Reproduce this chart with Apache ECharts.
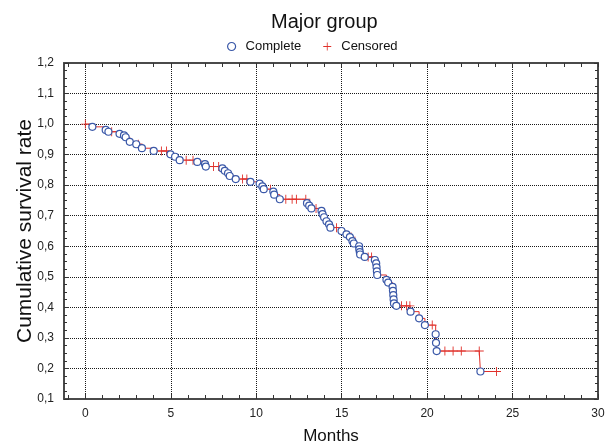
<!DOCTYPE html>
<html><head><meta charset="utf-8">
<script src="https://cdn.jsdelivr.net/npm/echarts@6/dist/echarts.min.js"></script>
<style>html,body{margin:0;padding:0;background:#fff}#c{width:606px;height:447px}</style>
</head><body><div id="c"></div>
<script>
// ---- data ----
const titleText = 'Major group';
const seriesNames = ['Complete', 'Censored'];
const xAxisName = 'Months';
const yAxisName = 'Cumulative survival rate';
const xTickLabels = [0, 5, 10, 15, 20, 25, 30];
const yTickLabels = [0.1, 0.2, 0.3, 0.4, 0.5, 0.6, 0.7, 0.8, 0.9, 1.0, 1.1, 1.2];

const completeTimes = [0.41, 1.19, 1.35, 2.00, 2.26, 2.36, 2.60, 2.98, 3.31, 4.00, 4.98, 5.25, 5.52, 6.55, 7.00, 7.05,
  8.02, 8.16, 8.35, 8.45, 8.80, 9.66, 10.20, 10.36, 10.44, 11.00, 11.05, 11.38, 12.97, 13.10, 13.23, 13.82, 13.88,
  13.97, 14.11, 14.26, 14.34, 14.99, 15.28, 15.48, 15.63, 15.71, 16.02, 16.03, 16.06, 16.08, 16.35, 16.94, 17.02,
  17.04, 17.06, 17.08, 17.62, 17.72, 17.98, 18.00, 18.02, 18.04, 18.06, 18.20, 19.03, 19.53, 19.87, 20.50, 20.52,
  20.56, 23.12];
const completeSurv = [0.991, 0.981, 0.975, 0.968, 0.963, 0.957, 0.942, 0.934, 0.921, 0.912, 0.901, 0.893, 0.882, 0.876,
  0.869, 0.861, 0.855, 0.847, 0.839, 0.830, 0.820, 0.811, 0.805, 0.796, 0.787, 0.779, 0.769, 0.754, 0.741, 0.733,
  0.724, 0.716, 0.705, 0.695, 0.682, 0.672, 0.661, 0.650, 0.639, 0.630, 0.617, 0.609, 0.600, 0.590, 0.581, 0.573,
  0.565, 0.555, 0.544, 0.531, 0.518, 0.506, 0.490, 0.481, 0.467, 0.454, 0.440, 0.426, 0.413, 0.405, 0.386, 0.364,
  0.342, 0.312, 0.284, 0.257, 0.190];

const censoredTimes = [0, 1.54, 3.10, 4.45, 4.75, 5.90, 6.30, 7.50, 7.80, 9.20, 9.45, 10.83, 11.73, 12.10, 12.35,
  12.90, 13.50, 14.70, 15.55, 16.20, 16.55, 16.75, 18.50, 18.80, 18.99, 20.30, 21.04, 21.52, 22.00, 23.05, 24.06];
const censoredSurv = [1.0, 0.975, 0.934, 0.912, 0.912, 0.882, 0.882, 0.861, 0.861, 0.820, 0.820, 0.787, 0.754, 0.754,
  0.754, 0.754, 0.724, 0.661, 0.630, 0.573, 0.565, 0.565, 0.405, 0.405, 0.405, 0.342, 0.257, 0.257, 0.257, 0.257,
  0.190];

// ---- build library structures ----
const completePts = completeTimes.map((t, i) => [t, completeSurv[i]]);
const censoredPts = censoredTimes.map((t, i) => [t, censoredSurv[i]]);
const stepPts = completePts.concat(censoredPts).sort((a, b) => a[0] - b[0] || b[1] - a[1]);

const xMin = -1.25, xMax = 30;
const xMinor = [];
for (let v = -1; v <= 30; v++) xMinor.push(v);

const FONT = '"Liberation Sans", Arial, sans-serif';
const RED = '#e0302a';
const BLUE = '#3a58a8';
const frameLine = { show: true, onZero: false, lineStyle: { color: '#4a4a4a', width: 2 } };
const gridLine = { show: true, lineStyle: { color: '#1a1a1a', type: 'dotted', width: 1 } };
const tickStyle = { color: '#333', width: 1 };
const fmt = v => Number(v).toFixed(1).replace('.', ',');
const plusPath = 'path://M4.5,0h1v4.5h4.5v1h-4.5v4.5h-1v-4.5h-4.5v-1h4.5z';

const chart = echarts.init(document.getElementById('c'), null, { renderer: 'canvas' });
chart.setOption({
  animation: false,
  backgroundColor: '#fff',
  title: {
    text: titleText, left: 266, top: 7,
    textStyle: { fontSize: 20, fontWeight: 'normal', color: '#111', fontFamily: FONT }
  },
  legend: {
    data: [
      { name: seriesNames[0], icon: 'circle', itemStyle: { color: '#fff', borderColor: BLUE, borderWidth: 1.2 } },
      { name: seriesNames[1], icon: plusPath, itemStyle: { color: RED, borderWidth: 0 } }
    ],
    left: 222, top: 35, itemWidth: 8, itemHeight: 8, itemGap: 22,
    textStyle: { fontSize: 13, color: '#111', fontFamily: FONT, padding: [0, 0, 0, 5] }
  },
  grid: { left: 64, right: 8, top: 63, bottom: 48, containLabel: false, outerBoundsMode: 'none' },
  xAxis: [
    {
      type: 'value', position: 'bottom', min: xMin, max: xMax,
      axisLine: frameLine,
      axisTick: { show: true, inside: true, length: 5, customValues: xTickLabels, lineStyle: tickStyle },
      axisLabel: { customValues: xTickLabels, margin: 9, fontSize: 12, color: '#222', fontFamily: FONT },
      splitLine: gridLine,
      name: xAxisName, nameLocation: 'middle', nameGap: 29, nameMoveOverlap: false,
      nameTextStyle: { fontSize: 17, color: '#111', fontFamily: FONT }
    },
    {
      type: 'value', position: 'bottom', min: xMin, max: xMax,
      axisLine: { show: false, onZero: false },
      axisTick: { show: true, inside: true, length: 4, customValues: xMinor, lineStyle: tickStyle },
      axisLabel: { show: false }, splitLine: { show: false }
    },
    {
      type: 'value', position: 'top', min: xMin, max: xMax,
      axisLine: frameLine,
      axisTick: { show: true, inside: true, length: 4, customValues: xMinor, lineStyle: tickStyle },
      axisLabel: { show: false }, splitLine: { show: false }
    }
  ],
  yAxis: [
    {
      type: 'value', position: 'left', min: yTickLabels[0], max: yTickLabels[yTickLabels.length - 1], interval: 0.1,
      axisLine: frameLine,
      axisTick: { show: true, inside: true, length: 5, lineStyle: tickStyle },
      minorTick: { show: true, splitNumber: 4, length: 3, lineStyle: tickStyle },
      axisLabel: { formatter: fmt, margin: 10, fontSize: 12, color: '#222', fontFamily: FONT },
      splitLine: gridLine,
      name: yAxisName, nameLocation: 'middle', nameGap: 28, nameMoveOverlap: false,
      nameTextStyle: { fontSize: 21, color: '#111', fontFamily: FONT }
    },
    {
      type: 'value', position: 'right', min: yTickLabels[0], max: yTickLabels[yTickLabels.length - 1], interval: 0.1,
      axisLine: frameLine,
      axisTick: { show: true, inside: true, length: 4, lineStyle: tickStyle },
      minorTick: { show: true, splitNumber: 4, length: 3, lineStyle: tickStyle },
      axisLabel: { show: false }, splitLine: { show: false }
    }
  ],
  series: [
    {
      name: 'KM', type: 'line', step: 'end', data: stepPts, showSymbol: false, symbol: 'none',
      lineStyle: { color: RED, width: 1 }, z: 2, silent: true
    },
    {
      name: seriesNames[1], type: 'scatter', data: censoredPts, symbol: plusPath, symbolSize: 9,
      itemStyle: { color: RED, opacity: 1 }, z: 3
    },
    {
      name: seriesNames[0], type: 'scatter', data: completePts, symbol: 'circle', symbolSize: 7,
      itemStyle: { color: '#ffffff', borderColor: BLUE, borderWidth: 1.2, opacity: 1 }, z: 4
    }
  ]
});
</script>
</body></html>
